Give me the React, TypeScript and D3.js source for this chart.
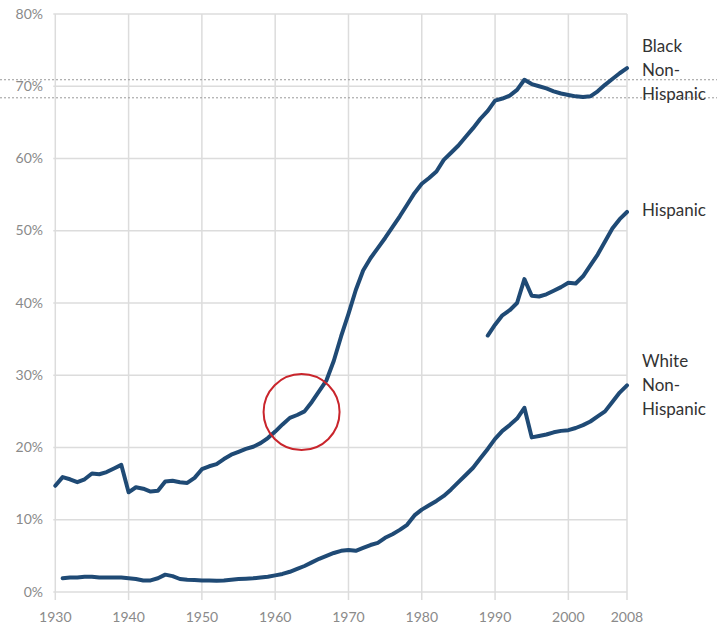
import React from "react";
import * as d3 from "d3";

const W = 717;
const H = 635;

const xTicks = [1930, 1940, 1950, 1960, 1970, 1980, 1990, 2000, 2008];
const yTicks = [0, 10, 20, 30, 40, 50, 60, 70, 80];

// Black Non-Hispanic, 1930-2008
const blackStart = 1930;
const blackValues = [
  14.7, 15.9, 15.6, 15.2, 15.6, 16.4, 16.3, 16.6, 17.1, 17.6,
  13.8, 14.5, 14.3, 13.9, 14.0, 15.3, 15.4, 15.2, 15.1, 15.8,
  17.0, 17.4, 17.7, 18.4, 19.0, 19.4, 19.8, 20.1, 20.6, 21.3,
  22.2, 23.2, 24.1, 24.5, 25.0, 26.3, 27.8, 29.3, 32.0, 35.4,
  38.5, 41.8, 44.5, 46.2, 47.6, 49.0, 50.5, 52.0, 53.6, 55.2,
  56.5, 57.3, 58.2, 59.8, 60.8, 61.8, 63.0, 64.2, 65.5, 66.6,
  68.0, 68.3, 68.7, 69.5, 70.9, 70.3, 70.0, 69.7, 69.3, 69.0,
  68.8, 68.6, 68.5, 68.6, 69.3, 70.2, 71.0, 71.8, 72.5,
];

// Hispanic, 1989-2008
const hispStart = 1989;
const hispValues = [
  35.5, 37.0, 38.3, 39.0, 40.0, 43.3, 41.0, 40.9, 41.2, 41.7,
  42.2, 42.8, 42.7, 43.7, 45.2, 46.7, 48.5, 50.3, 51.6, 52.6,
];

// White Non-Hispanic, 1931-2008
const whiteStart = 1931;
const whiteValues = [
  1.9, 2.0, 2.0, 2.1, 2.1, 2.0, 2.0, 2.0, 2.0,
  1.9, 1.8, 1.6, 1.6, 1.9, 2.4, 2.2, 1.8, 1.7, 1.65,
  1.6, 1.6, 1.55, 1.6, 1.7, 1.8, 1.85, 1.9, 2.0, 2.1,
  2.3, 2.5, 2.8, 3.2, 3.6, 4.1, 4.6, 5.0, 5.4, 5.7,
  5.8, 5.7, 6.1, 6.5, 6.8, 7.5, 8.0, 8.6, 9.3, 10.6,
  11.4, 12.0, 12.6, 13.3, 14.2, 15.2, 16.2, 17.2, 18.5, 19.8,
  21.2, 22.3, 23.1, 24.0, 25.5, 21.4, 21.6, 21.8, 22.1, 22.3,
  22.4, 22.7, 23.1, 23.6, 24.3, 25.0, 26.3, 27.6, 28.6,
];

const refLines = [70.9, 68.4];
const highlight = { year: 1963.6, value: 24.9 };

const labelBlack = ["Black", "Non-", "Hispanic"];
const labelHisp = ["Hispanic"];
const labelWhite = ["White", "Non-", "Hispanic"];

const toPoints = (start: number, vals: number[]) =>
  vals.map((v, i) => ({ year: start + i, value: v }));

export default function App() {
  const x = d3.scaleLinear().domain([1930, 2008]).range([55.3, 627]);
  const y = d3.scaleLinear().domain([0, 80]).range([592, 14]);
  const line = d3
    .line<{ year: number; value: number }>()
    .x((d) => x(d.year))
    .y((d) => y(d.value));

  const series = [
    toPoints(blackStart, blackValues),
    toPoints(hispStart, hispValues),
    toPoints(whiteStart, whiteValues),
  ];

  const font = "Lato, 'Open Sans', sans-serif";
  const lineColor = "#1f4a75";

  const labelBlock = (lines: string[], y0: number, lh: number) =>
    lines.map((t, i) => (
      <text
        key={t + i}
        x={642}
        y={y0 + i * lh}
        fontFamily={font}
        fontSize={17}
        fill="#333"
        dominantBaseline="middle"
      >
        {t}
      </text>
    ));

  return (
    <svg
      width={W}
      height={H}
      style={{ position: "absolute", left: 0, top: 0, background: "#fff" }}
    >
      {/* grid */}
      {yTicks.map((t) => (
        <line
          key={"h" + t}
          x1={x(1930) - 2}
          x2={x(2008)}
          y1={y(t)}
          y2={y(t)}
          stroke="#dcdcdc"
          strokeWidth={1.5}
        />
      ))}
      {xTicks.map((t) => (
        <line
          key={"v" + t}
          x1={x(t)}
          x2={x(t)}
          y1={y(80)}
          y2={y(0) + 8}
          stroke="#dcdcdc"
          strokeWidth={1.5}
        />
      ))}
      {/* reference dotted lines */}
      {refLines.map((v) => (
        <line
          key={"r" + v}
          x1={0}
          x2={W}
          y1={y(v)}
          y2={y(v)}
          stroke="#999"
          strokeWidth={1}
          strokeDasharray="2,2"
        />
      ))}
      {/* tick labels */}
      {yTicks.map((t) => (
        <text
          key={"yl" + t}
          x={43}
          y={y(t) + 1}
          textAnchor="end"
          dominantBaseline="middle"
          fontFamily={font}
          fontSize={14}
          fill="#8a8a8a"
        >
          {t}%
        </text>
      ))}
      {xTicks.map((t) => (
        <text
          key={"xl" + t}
          x={x(t)}
          y={618}
          textAnchor="middle"
          dominantBaseline="middle"
          fontFamily={font}
          fontSize={14}
          fill="#8a8a8a"
        >
          {t}
        </text>
      ))}
      {/* series */}
      {series.map((s, i) => (
        <path
          key={"s" + i}
          d={line(s) || ""}
          fill="none"
          stroke={lineColor}
          strokeWidth={4}
          strokeLinejoin="round"
          strokeLinecap="round"
        />
      ))}
      {/* highlight circle */}
      <circle
        cx={x(highlight.year)}
        cy={y(highlight.value)}
        r={38}
        fill="none"
        stroke="#c9252c"
        strokeWidth={2}
      />
      {/* labels */}
      {labelBlock(labelBlack, 48, 24)}
      {labelBlock(labelHisp, 212, 24)}
      {labelBlock(labelWhite, 363, 24)}
    </svg>
  );
}
